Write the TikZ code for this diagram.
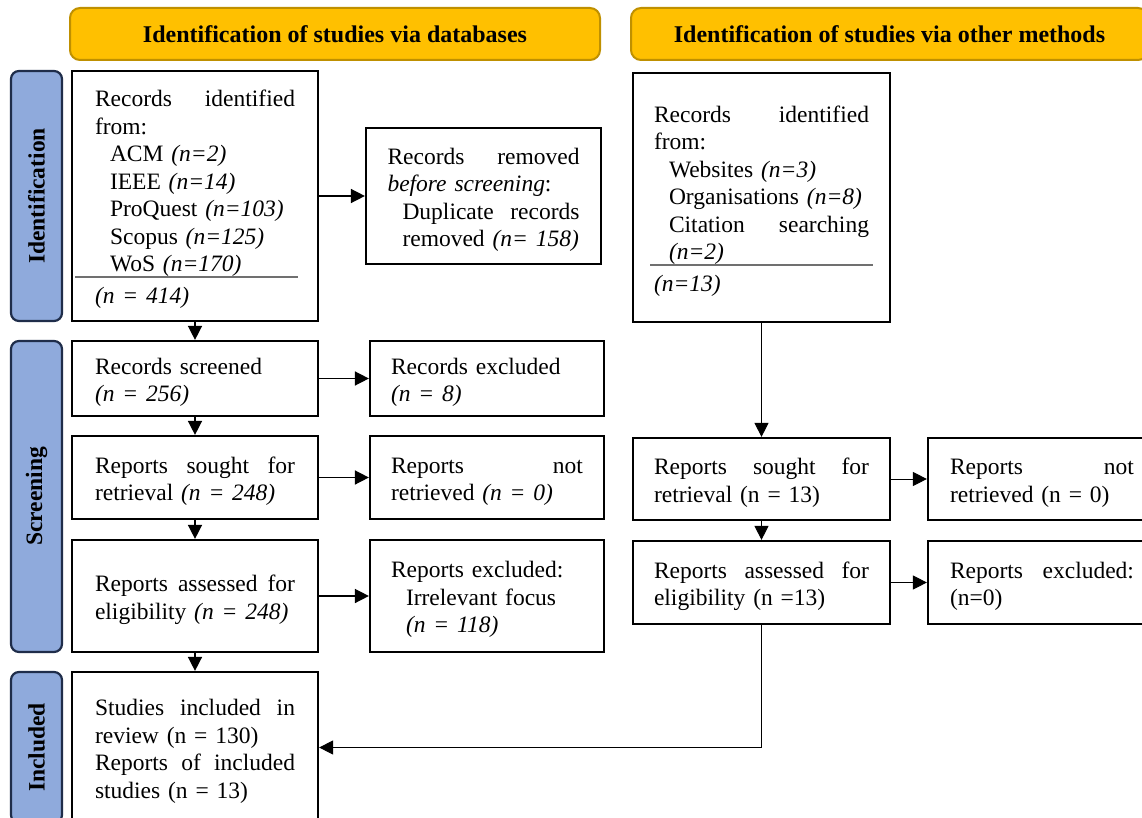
\documentclass[tikz,border=0pt]{standalone}
\usepackage{fontspec}
\setmainfont{Liberation Serif}
\usetikzlibrary{arrows.meta}
\definecolor{gold}{HTML}{FFC000}
\definecolor{goldedge}{HTML}{BF9000}
\definecolor{sideblue}{HTML}{8FAADC}
\definecolor{sideedge}{HTML}{1F2D4A}
\definecolor{rulegray}{HTML}{707070}
\newcommand{\bodyfont}{\fontsize{23.5}{27.5}\selectfont}
\newcommand{\headfont}{\fontsize{24}{28}\selectfont\bfseries}
\newcommand{\ind}{\hspace*{15pt}}
\tikzset{
  header/.style={draw=goldedge, fill=gold, line width=2pt, rounded corners=10pt,
    font=\headfont, inner sep=0pt},
  sidebar/.style={draw=sideedge, fill=sideblue, line width=2.2pt, rounded corners=8pt,
    font=\bodyfont\bfseries, inner sep=0pt, rotate=90},
  box/.style={draw, line width=2.2pt, inner xsep=0pt, inner ysep=0pt, align=left,
    font=\bodyfont, execute at begin node={\rule{0pt}{23.8pt}}},
  arr/.style={line width=1.5pt, -{Triangle[length=14pt,width=14pt]}},
  thinarr/.style={line width=1pt, -{Triangle[length=14pt,width=14pt]}},
  sep/.style={draw=rulegray, line width=1.5pt}
}
\begin{document}
\begin{tikzpicture}[x=1pt,y=-1pt]
\useasboundingbox (0,0) rectangle (1142,818);
\clip (0,0) rectangle (1142,818);
\fill[white] (0,0) rectangle (1142,818);

% headers
\node[header, minimum width=530pt, minimum height=52pt] (h1) at (335,34) {Identification of studies via databases};
\node[header, minimum width=517pt, minimum height=52pt] (h2) at (889.5,34) {Identification of studies via other methods};

% side bars
\node[sidebar, minimum width=250pt, minimum height=51pt] (s1) at (36.5,196) {Identification};
\node[sidebar, minimum width=311pt, minimum height=51pt] (s2) at (36.5,496.5) {Screening};
\node[sidebar, minimum width=151pt, minimum height=51pt] (s3) at (36.5,747.5) {Included};

% left column
\node[box, minimum width=246pt, minimum height=250pt, text width=200pt] (b1) at (195,196) {%
Records\hfill identified\\
from:\\
\ind ACM \textit{(n=2)}\\
\ind IEEE \textit{(n=14)}\\
\ind ProQuest \textit{(n=103)}\\
\ind Scopus \textit{(n=125)}\\
\ind WoS \textit{(n=170)}\\[4.5pt]
\textit{(n = 414)}};
\node[box, minimum width=235pt, minimum height=136pt, text width=192pt] (rm) at (483.5,196) {%
Records\hfill removed\\
\textit{before screening}:\\
\ind Duplicate\hfill records\\
\ind removed \textit{(n= 158)}};

\node[box, minimum width=246pt, minimum height=75pt, text width=200pt] (sc) at (195,378.5) {%
Records screened\\
\textit{(n = 256)}};
\node[box, minimum width=234pt, minimum height=75pt, text width=192pt] (ex) at (487,378.5) {%
Records excluded\\
\textit{(n = 8)}};

\node[box, minimum width=246pt, minimum height=83pt, text width=200pt] (so) at (195,477.5) {%
Reports\hfill sought\hfill for\\
retrieval \textit{(n = 248)}};
\node[box, minimum width=234pt, minimum height=83pt, text width=192pt] (nr) at (487,477.5) {%
Reports\hfill not\\
retrieved \textit{(n = 0)}};

\node[box, minimum width=246pt, minimum height=112pt, text width=200pt] (as) at (195,596) {%
Reports\hfill assessed\hfill for\\
eligibility \textit{(n = 248)}};
\node[box, minimum width=234pt, minimum height=112pt, text width=192pt] (rx) at (487,596) {%
Reports excluded:\\
\ind Irrelevant focus\\
\ind \textit{(n = 118)}};

\node[box, minimum width=246pt, minimum height=151pt, text width=200pt] (inc) at (195,747.5) {%
Studies\hfill included\hfill in\\
review (n = 130)\\
Reports\hfill of\hfill included\\
studies (n = 13)};

% right column
\node[box, minimum width=257pt, minimum height=249pt, text width=215pt] (ob) at (761.5,197.5) {%
Records\hfill identified\\
from:\\
\ind Websites \textit{(n=3)}\\
\ind Organisations \textit{(n=8)}\\
\ind Citation\hfill searching\\
\ind \textit{(n=2)}\\[4.5pt]
\textit{(n=13)}};

\node[box, minimum width=257pt, minimum height=82pt, text width=215pt] (oso) at (761.5,479) {%
Reports\hfill sought\hfill for\\
retrieval (n = 13)};
\node[box, minimum width=228pt, minimum height=82pt, text width=184pt] (onr) at (1042,479) {%
Reports\hfill not\\
retrieved (n = 0)};

\node[box, minimum width=257pt, minimum height=83pt, text width=215pt] (oas) at (761.5,582.5) {%
Reports\hfill assessed\hfill for\\
eligibility (n =13)};
\node[box, minimum width=228pt, minimum height=83pt, text width=184pt] (orx) at (1042,582.5) {%
Reports\hfill excluded:\\
(n=0)};

% separator rules
\draw[sep] (75,277) -- (298,277);
\draw[sep] (650,265) -- (873,265);

% connectors left
\draw[arr] (b1.east) -- (rm.west);
\draw[arr] (b1.south) -- (sc.north);
\draw[arr] (sc.east) -- (ex.west);
\draw[arr] (sc.south) -- (so.north);
\draw[arr] (so.east) -- (nr.west);
\draw[arr] (so.south) -- (as.north);
\draw[arr] (as.east) -- (rx.west);
\draw[arr] (as.south) -- (inc.north);

% connectors right
\draw[thinarr] (ob.south) -- (oso.north);
\draw[thinarr] (oso.east) -- (onr.west);
\draw[thinarr] (oso.south) -- (oas.north);
\draw[thinarr] (oas.east) -- (orx.west);
\draw[thinarr] (oas.south) |- (inc.east);
\end{tikzpicture}
\end{document}
